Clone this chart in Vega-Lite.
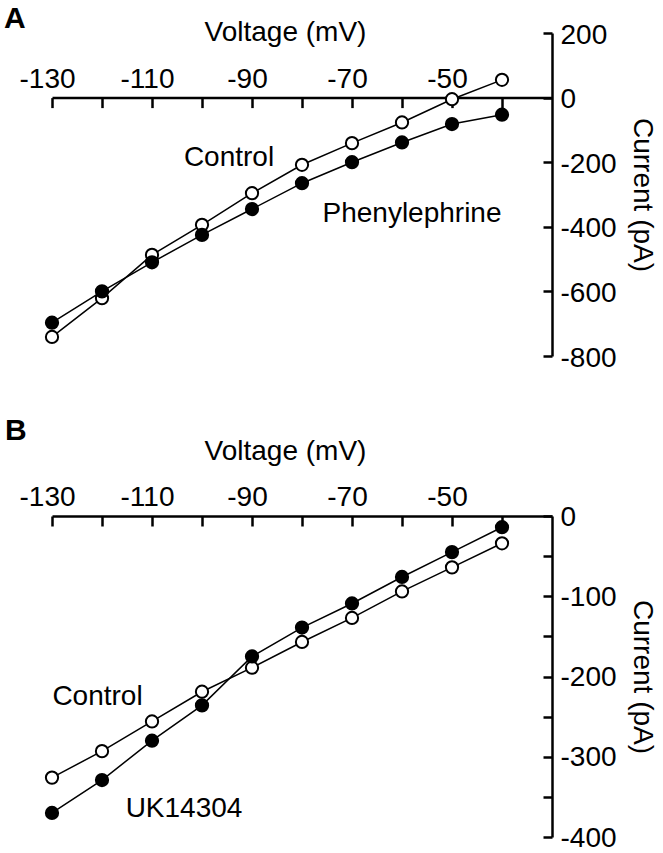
{
  "$schema": "https://vega.github.io/schema/vega-lite/v6.json",
  "background": "white",
  "padding": {"left": 4, "top": 3, "right": 6, "bottom": 0},
  "spacing": 160,
  "bounds": "flush",
  "config": {
    "font": "Liberation Sans",
    "view": {"stroke": null},
    "axis": {
      "domainColor": "black",
      "domainWidth": 2.5,
      "tickColor": "black",
      "tickWidth": 2.5,
      "labelFont": "Liberation Sans",
      "labelFontSize": 28,
      "labelColor": "black",
      "titleFont": "Liberation Sans",
      "titleFontSize": 28,
      "titleFontWeight": "normal",
      "titleColor": "black",
      "grid": false,
      "labelFlush": false,
      "labelOverlap": false
    }
  },
  "datasets": {
    "panelA": [
      {"series": "Control", "v": -130, "i": -741},
      {"series": "Control", "v": -120, "i": -621},
      {"series": "Control", "v": -110, "i": -487},
      {"series": "Control", "v": -100, "i": -394},
      {"series": "Control", "v": -90, "i": -296},
      {"series": "Control", "v": -80, "i": -208},
      {"series": "Control", "v": -70, "i": -141},
      {"series": "Control", "v": -60, "i": -77},
      {"series": "Control", "v": -50, "i": -5},
      {"series": "Control", "v": -40, "i": 55},
      {"series": "Phenylephrine", "v": -130, "i": -697},
      {"series": "Phenylephrine", "v": -120, "i": -600},
      {"series": "Phenylephrine", "v": -110, "i": -510},
      {"series": "Phenylephrine", "v": -100, "i": -425},
      {"series": "Phenylephrine", "v": -90, "i": -345},
      {"series": "Phenylephrine", "v": -80, "i": -265},
      {"series": "Phenylephrine", "v": -70, "i": -200},
      {"series": "Phenylephrine", "v": -60, "i": -139},
      {"series": "Phenylephrine", "v": -50, "i": -82},
      {"series": "Phenylephrine", "v": -40, "i": -53}
    ],
    "panelB": [
      {"series": "Control", "v": -130, "i": -326},
      {"series": "Control", "v": -120, "i": -293},
      {"series": "Control", "v": -110, "i": -256},
      {"series": "Control", "v": -100, "i": -219},
      {"series": "Control", "v": -90, "i": -189},
      {"series": "Control", "v": -80, "i": -157},
      {"series": "Control", "v": -70, "i": -127},
      {"series": "Control", "v": -60, "i": -94},
      {"series": "Control", "v": -50, "i": -64},
      {"series": "Control", "v": -40, "i": -34},
      {"series": "UK14304", "v": -130, "i": -370},
      {"series": "UK14304", "v": -120, "i": -329},
      {"series": "UK14304", "v": -110, "i": -280},
      {"series": "UK14304", "v": -100, "i": -236},
      {"series": "UK14304", "v": -90, "i": -175},
      {"series": "UK14304", "v": -80, "i": -139},
      {"series": "UK14304", "v": -70, "i": -109},
      {"series": "UK14304", "v": -60, "i": -76},
      {"series": "UK14304", "v": -50, "i": -45},
      {"series": "UK14304", "v": -40, "i": -14}
    ],
    "notesA": [
      {"v": -94.6, "i": -213, "label": "Control"},
      {"v": -58, "i": -385, "label": "Phenylephrine"}
    ],
    "notesB": [
      {"v": -120.9, "i": -236, "label": "Control"},
      {"v": -103.6, "i": -375, "label": "UK14304"}
    ],
    "letterA": [{"v": -139.6, "i": 216, "label": "A"}],
    "letterB": [{"v": -139.4, "i": 95, "label": "B"}]
  },
  "resolve": {"scale": {"x": "independent", "y": "independent", "fill": "independent"}},
  "vconcat": [
    {
      "width": 500,
      "height": 323,
      "layer": [
        {
          "data": {"name": "panelA"},
          "mark": {"type": "line", "color": "black", "strokeWidth": 1.5},
          "encoding": {
            "x": {
              "field": "v", "type": "quantitative",
              "scale": {"domain": [-130, -30], "nice": false, "zero": false},
              "axis": {
                "orient": "top",
                "values": [-130, -120, -110, -100, -90, -80, -70, -60, -50, -40],
                "labelExpr": "(datum.value + 130) % 20 === 0 ? '' + datum.value : ''",
                "tickSize": -10,
                "labelPadding": 20,
                "labelBaseline": "alphabetic",
                "labelOffset": -5,
                "offset": -64.6,
                "title": "Voltage (mV)",
                "titleX": 233,
                "titleY": -57,
                "titleBaseline": "alphabetic",
                "titleAlign": "center"
              }
            },
            "y": {
              "field": "i", "type": "quantitative",
              "scale": {"domain": [-800, 200], "nice": false, "zero": false},
              "axis": {
                "orient": "right",
                "values": [200, 0, -200, -400, -600, -800],
                "labelExpr": "'' + datum.value",
                "tickSize": -9,
                "labelPadding": 17,
                "labelOffset": 2,
                "title": "Current (pA)",
                "titleAngle": 90,
                "titleX": 89,
                "titleY": 161.5,
                "titleBaseline": "middle",
                "titleAlign": "center"
              }
            },
            "detail": {"field": "series"}
          }
        },
        {
          "data": {"name": "panelA"},
          "mark": {"type": "point", "shape": "circle", "filled": true, "size": 150, "stroke": "black", "strokeWidth": 2, "opacity": 1},
          "encoding": {
            "x": {"field": "v", "type": "quantitative"},
            "y": {"field": "i", "type": "quantitative"},
            "fill": {"field": "series", "type": "nominal", "scale": {"domain": ["Control", "Phenylephrine"], "range": ["white", "black"]}, "legend": null}
          }
        },
        {
          "data": {"name": "notesA"},
          "mark": {"type": "text", "fontSize": 28, "align": "center", "baseline": "alphabetic", "color": "black"},
          "encoding": {
            "x": {"field": "v", "type": "quantitative"},
            "y": {"field": "i", "type": "quantitative"},
            "text": {"field": "label"}
          }
        },
        {
          "data": {"name": "letterA"},
          "mark": {"type": "text", "fontSize": 30, "fontWeight": "bold", "align": "left", "baseline": "alphabetic", "color": "black"},
          "encoding": {
            "x": {"field": "v", "type": "quantitative"},
            "y": {"field": "i", "type": "quantitative"},
            "text": {"field": "label"}
          }
        }
      ]
    },
    {
      "width": 500,
      "height": 321,
      "layer": [
        {
          "data": {"name": "panelB"},
          "mark": {"type": "line", "color": "black", "strokeWidth": 1.5},
          "encoding": {
            "x": {
              "field": "v", "type": "quantitative",
              "scale": {"domain": [-130, -30], "nice": false, "zero": false},
              "axis": {
                "orient": "top",
                "values": [-130, -120, -110, -100, -90, -80, -70, -60, -50, -40],
                "labelExpr": "(datum.value + 130) % 20 === 0 ? '' + datum.value : ''",
                "tickSize": -10,
                "labelPadding": 21,
                "labelBaseline": "alphabetic",
                "labelOffset": -5,
                "offset": 0,
                "title": "Voltage (mV)",
                "titleX": 233,
                "titleY": -57,
                "titleBaseline": "alphabetic",
                "titleAlign": "center"
              }
            },
            "y": {
              "field": "i", "type": "quantitative",
              "scale": {"domain": [-400, 0], "nice": false, "zero": false},
              "axis": {
                "orient": "right",
                "values": [0, -50, -100, -150, -200, -250, -300, -350, -400],
                "labelExpr": "datum.value % 100 === 0 ? '' + datum.value : ''",
                "tickSize": -9,
                "labelPadding": 17,
                "labelOffset": 1,
                "title": "Current (pA)",
                "titleAngle": 90,
                "titleX": 89,
                "titleY": 160.5,
                "titleBaseline": "middle",
                "titleAlign": "center"
              }
            },
            "detail": {"field": "series"}
          }
        },
        {
          "data": {"name": "panelB"},
          "mark": {"type": "point", "shape": "circle", "filled": true, "size": 150, "stroke": "black", "strokeWidth": 2, "opacity": 1},
          "encoding": {
            "x": {"field": "v", "type": "quantitative"},
            "y": {"field": "i", "type": "quantitative"},
            "fill": {"field": "series", "type": "nominal", "scale": {"domain": ["Control", "UK14304"], "range": ["white", "black"]}, "legend": null}
          }
        },
        {
          "data": {"name": "notesB"},
          "mark": {"type": "text", "fontSize": 28, "align": "center", "baseline": "alphabetic", "color": "black"},
          "encoding": {
            "x": {"field": "v", "type": "quantitative"},
            "y": {"field": "i", "type": "quantitative"},
            "text": {"field": "label"}
          }
        },
        {
          "data": {"name": "letterB"},
          "mark": {"type": "text", "fontSize": 30, "fontWeight": "bold", "align": "left", "baseline": "alphabetic", "color": "black"},
          "encoding": {
            "x": {"field": "v", "type": "quantitative"},
            "y": {"field": "i", "type": "quantitative"},
            "text": {"field": "label"}
          }
        }
      ]
    }
  ]
}
